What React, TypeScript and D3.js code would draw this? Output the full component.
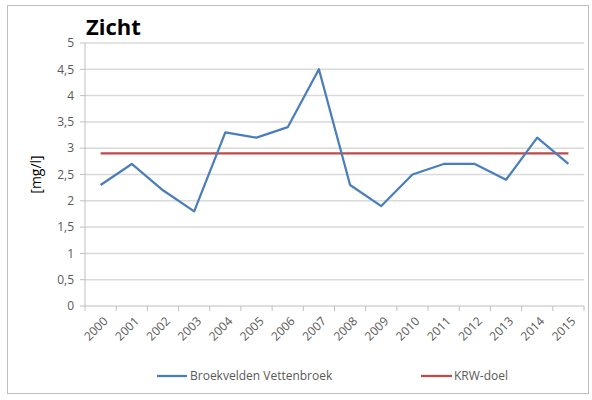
import React, { useEffect } from "react";
import * as d3 from "d3";

const years = ["2000","2001","2002","2003","2004","2005","2006","2007","2008","2009","2010","2011","2012","2013","2014","2015"];
const zicht = [2.3, 2.7, 2.2, 1.8, 3.3, 3.2, 3.4, 4.5, 2.3, 1.9, 2.5, 2.7, 2.7, 2.4, 3.2, 2.7];
const krwDoel = [2.9, 2.9, 2.9, 2.9, 2.9, 2.9, 2.9, 2.9, 2.9, 2.9, 2.9, 2.9, 2.9, 2.9, 2.9, 2.9];
const yTicks = [0, 0.5, 1, 1.5, 2, 2.5, 3, 3.5, 4, 4.5, 5];
const seriesNames = ["Broekvelden Vettenbroek", "KRW-doel"];

const W = 592, H = 400;
const plot = { left: 85, right: 584, top: 43, bottom: 306 };
const font = "'Open Sans', 'Liberation Sans', sans-serif";
const blue = "#4A7EBB";
const red = "#BE4B48";

export default function App() {
  useEffect(() => {
    document.body.style.margin = "0";
  }, []);

  const x = d3.scaleBand<string>().domain(years).range([plot.left, plot.right]);
  const y = d3.scaleLinear().domain([0, 5]).range([plot.bottom, plot.top]);
  const cx = (yr: string) => (x(yr) ?? 0) + x.bandwidth() / 2;

  const line = d3.line<number>().x((_, i) => cx(years[i])).y((d) => y(d));
  const fmt = (v: number) => String(v).replace(".", ",");

  const boundaries = d3.range(years.length + 1).map((i) => plot.left + i * x.step());

  return (
    <svg width={W} height={H} style={{ display: "block" }} fontFamily={font}>
      <rect x={0} y={0} width={W} height={H} fill="#fff" />
      <rect x={7.5} y={5.5} width={581} height={388} fill="#fff" stroke="#BFBFBF" strokeWidth={1} />

      <text x={86} y={35} fontSize={22} fontWeight="bold" fill="#000">Zicht</text>

      {yTicks.map((t) => (
        <g key={t}>
          {t > 0 && (
            <line x1={plot.left} x2={plot.right} y1={y(t)} y2={y(t)} stroke="#D9D9D9" strokeWidth={1.5} />
          )}
          <line x1={plot.left - 5} x2={plot.left} y1={y(t)} y2={y(t)} stroke="#BFBFBF" />
          <text x={74} y={y(t)} dy="0.35em" textAnchor="end" fontSize={12} fill="#595959">{fmt(t)}</text>
        </g>
      ))}

      <line x1={plot.left} x2={plot.left} y1={plot.top} y2={plot.bottom} stroke="#BFBFBF" />
      <line x1={plot.left} x2={plot.right} y1={plot.bottom} y2={plot.bottom} stroke="#BFBFBF" />
      {boundaries.map((b, i) => (
        <line key={i} x1={b} x2={b} y1={plot.bottom} y2={plot.bottom + 5} stroke="#BFBFBF" />
      ))}

      {years.map((yr) => (
        <text
          key={yr}
          transform={`translate(${cx(yr) + 5},${plot.bottom + 13}) rotate(-45)`}
          textAnchor="end"
          dy="0.35em"
          fontSize={12}
          fill="#595959"
        >
          {yr}
        </text>
      ))}

      <text
        transform={`translate(36,${(plot.top + plot.bottom) / 2}) rotate(-90)`}
        textAnchor="middle"
        dy="0.35em"
        fontSize={14}
        fill="#000"
      >
        [mg/l]
      </text>

      <path d={line(krwDoel) ?? ""} fill="none" stroke={red} strokeWidth={2.25} />
      <path d={line(zicht) ?? ""} fill="none" stroke={blue} strokeWidth={2.25} strokeLinejoin="round" />

      <line x1={157} x2={187} y1={376} y2={376} stroke={blue} strokeWidth={2.25} />
      <text x={190} y={376} dy="0.35em" fontSize={12} fill="#595959">{seriesNames[0]}</text>
      <line x1={421} x2={452} y1={376} y2={376} stroke={red} strokeWidth={2.25} />
      <text x={454} y={376} dy="0.35em" fontSize={12} fill="#595959">{seriesNames[1]}</text>
    </svg>
  );
}
